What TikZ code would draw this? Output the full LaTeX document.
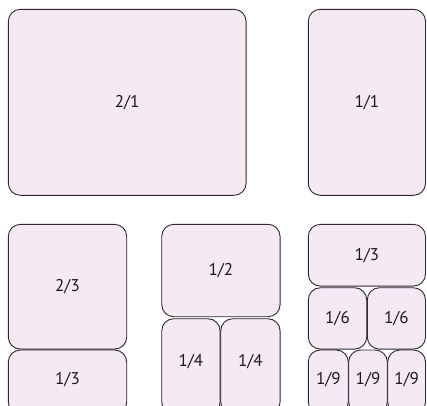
\documentclass[tikz,border=0pt]{standalone}
\usepackage{fontspec}
\setmainfont{PT Sans}
\definecolor{panefill}{RGB}{245,233,244}
\definecolor{paneline}{RGB}{45,40,45}
\tikzset{
  panefont/.style={font=\fontsize{17}{19}\selectfont, text=black!90},
  pane/.style={draw=paneline, fill=panefill, line width=0.9pt, rounded corners=12pt,
    inner sep=0pt, rectangle, panefont}
}
\begin{document}
\begin{tikzpicture}[x=1pt,y=-1pt]
\useasboundingbox (0,0) rectangle (427,405);
\clip (0,0) rectangle (427,405);
\node[pane, minimum width=237.7pt, minimum height=186pt] (a21) at (127.2,102.3) {2/1};
\node[pane, minimum width=117.2pt, minimum height=186pt] (a11) at (366.9,102.3) {1/1};
\node[pane, minimum width=118.4pt, minimum height=124.7pt] (b23) at (67.5,286.7) {2/3};
\node[pane, minimum width=118.3pt, minimum height=92.4pt] (c12) at (220.9,270.5) {1/2};
\node[pane, minimum width=117.2pt, minimum height=61.7pt] (d13) at (366.9,255.2) {1/3};
\node[pane, minimum width=58.4pt, minimum height=61.3pt] (d16a) at (337.5,318.4) {1/6};
\node[pane, minimum width=58.2pt, minimum height=61.3pt] (d16b) at (396.4,318.4) {1/6};
% bottom row, cut by the picture's lower edge
\node[pane, minimum width=118.4pt, minimum height=64pt] (b13) at (67.5,382) {};
\node[pane, minimum width=58.3pt, minimum height=95.3pt] (c14a) at (190.9,366.4) {};
\node[pane, minimum width=59.3pt, minimum height=95.3pt] (c14b) at (250.4,366.4) {};
\node[pane, minimum width=40pt, minimum height=64pt] (d19a) at (328.3,382) {};
\node[pane, minimum width=38.6pt, minimum height=64pt] (d19b) at (368,382) {};
\node[pane, minimum width=37.8pt, minimum height=64pt] (d19c) at (406.6,382) {};
\node[panefont] (t13) at (67.5,380) {1/3};
\node[panefont] (t14a) at (190.9,362) {1/4};
\node[panefont] (t14b) at (250.4,362) {1/4};
\node[panefont] (t19a) at (328.3,380) {1/9};
\node[panefont] (t19b) at (368,380) {1/9};
\node[panefont] (t19c) at (406.6,380) {1/9};
\end{tikzpicture}
\end{document}
